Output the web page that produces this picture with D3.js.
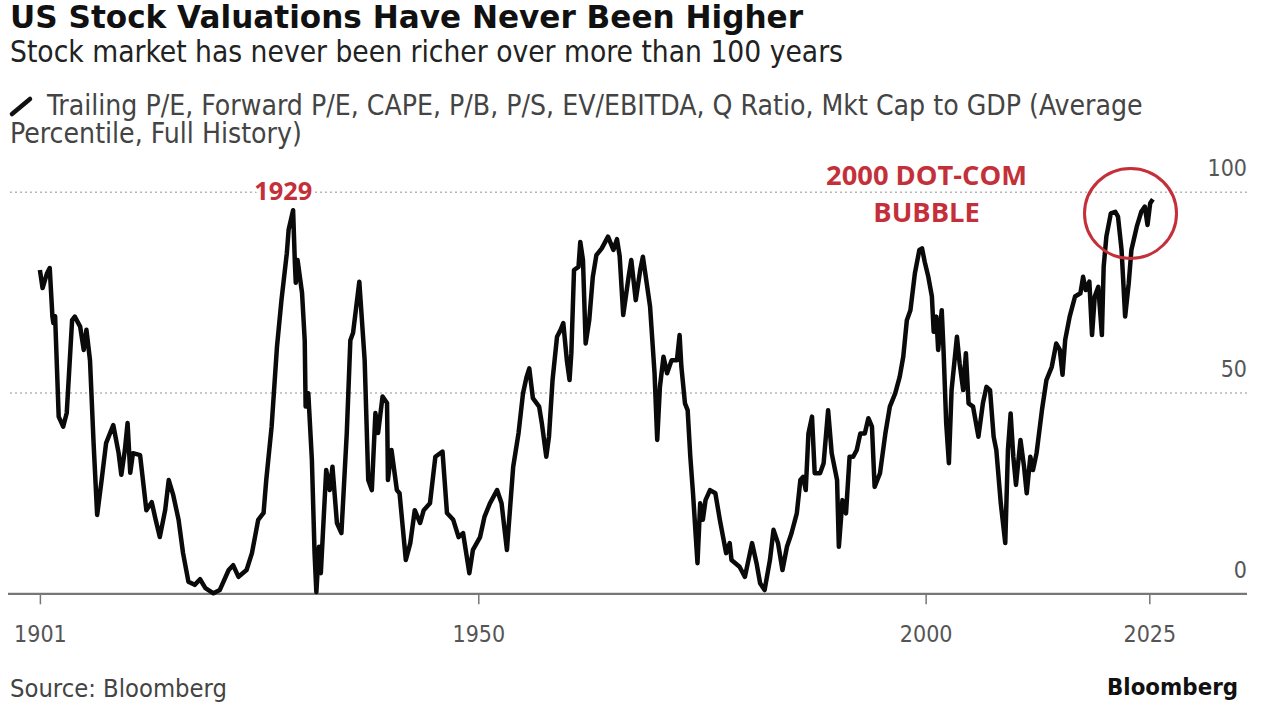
<!DOCTYPE html>
<html lang="en">
<head>
    <meta charset="UTF-8">
    <title>US Stock Valuations Have Never Been Higher</title>
    <script src="https://d3js.org/d3.v7.min.js"></script>
    <style>
        body { margin: 0; background: #fff; }
        svg { display: block; }
    </style>
</head>
<body>
    <div id="chart"></div>
    <script>
        // Average valuation percentile: [year, percentile]
        const series = [
            [1901.0,80.5],[1901.3,76],[1901.8,79.7],[1902.1,81],[1902.4,68.9],[1902.5,67.3],[1902.7,69],[1903.1,44],[1903.6,41.5],[1904.0,44.9],
            [1904.6,68],[1904.9,68.9],[1905.5,66.4],[1905.9,60.6],[1906.2,65.6],[1906.6,58],[1907.0,37.4],[1907.4,19.5],[1907.9,28.2],[1908.4,37.4],
            [1909.2,41.9],[1909.8,34.9],[1910.1,29.5],[1910.5,35.7],[1910.8,42.4],[1911.1,30],[1911.4,34.9],[1912.2,34.4],[1912.9,20.7],[1913.5,22.7],
            [1913.9,18.7],[1914.4,14],[1915.0,20.7],[1915.4,28.2],[1915.9,24.5],[1916.5,18.3],[1917.0,10],[1917.6,2.9],[1918.3,2.1],[1918.9,3.5],
            [1919.5,1.3],[1920.4,0],[1921.1,0.8],[1922.1,5.8],[1922.6,7],[1923.2,4.1],[1924.1,5.8],[1924.7,10],[1925.4,18.3],[1926.0,20],
            [1926.3,28.2],[1926.9,41.5],[1927.5,61.4],[1928.0,73],[1928.6,84.7],[1928.8,90.5],[1929.3,95.4],[1929.5,82.2],[1929.6,77.3],[1929.8,83],
            [1930.3,74.8],[1930.6,63],[1930.7,46.5],[1931.0,49.8],[1931.4,33.2],[1931.7,10],[1931.9,0.3],[1932.2,11.6],[1932.4,5],[1933.0,30.7],
            [1933.4,25.7],[1933.7,31.5],[1934.2,17.5],[1934.7,15],[1935.3,39.9],[1935.7,63],[1936.0,64.8],[1936.7,77.6],[1937.3,58],[1937.7,28.2],
            [1938.1,25.7],[1938.5,44.9],[1938.8,39.9],[1939.3,49],[1939.8,47.4],[1939.9,28.2],[1940.3,35.7],[1940.9,25.7],[1941.2,24.9],[1941.9,8.3],
            [1942.4,12.5],[1942.9,20.7],[1943.5,17.5],[1943.9,20.7],[1944.6,22.4],[1945.2,34],[1946.0,35.3],[1946.5,20],[1947.2,18.3],[1947.8,14],
            [1948.3,15],[1949.0,5],[1949.4,10.8],[1950.2,14],[1950.7,19.1],[1951.3,22.4],[1952.1,25.7],[1952.6,22.4],[1953.2,10.8],[1953.9,31.5],
            [1954.5,39.9],[1955.0,49.8],[1955.4,53.9],[1955.7,56],[1956.1,48.6],[1956.8,46.5],[1957.1,42.4],[1957.6,34],[1957.9,39],[1958.3,53.1],
            [1958.8,63.9],[1959.2,65.6],[1959.5,67.3],[1959.9,58],[1960.2,53.1],[1960.4,59.8],[1960.7,80.5],[1961.2,81.3],[1961.4,87.5],[1961.7,83],
            [1962.0,62.2],[1962.4,68],[1962.8,78.8],[1963.2,84.2],[1963.8,85.9],[1964.5,88.8],[1965.1,85.5],[1965.5,88.2],[1965.8,84],[1966.2,69.3],
            [1966.8,78.8],[1967.1,83],[1967.6,73],[1968.1,80.5],[1968.4,83.8],[1969.2,71.4],[1969.7,54.8],[1970.0,38.2],[1970.3,51.4],[1970.7,58.9],
            [1971.1,54.8],[1971.6,58],[1972.2,58],[1972.5,64.3],[1972.7,56.4],[1973.1,47.3],[1973.4,45.6],[1973.7,34],[1974.0,24.9],[1974.5,7.5],
            [1974.8,22.4],[1975.1,18.3],[1975.4,23.2],[1975.9,25.7],[1976.5,24.9],[1977.0,18.3],[1977.7,10],[1978.1,12.5],[1978.3,8.3],[1979.2,6.6],
            [1979.8,4.1],[1980.6,12.5],[1981.1,7.5],[1981.5,2.5],[1982.0,0.8],[1982.6,8.3],[1983.0,15.8],[1983.5,12.5],[1984.0,5.8],[1984.5,11.6],
            [1985.0,14.9],[1985.6,19.9],[1986.0,28.2],[1986.3,29],[1986.6,25.7],[1986.9,39.8],[1987.3,44],[1987.6,29.9],[1988.2,29.9],[1988.6,32.4],
            [1989.1,45.6],[1989.5,34.9],[1990.1,28.2],[1990.3,11.6],[1990.7,23.2],[1991.1,19.9],[1991.5,34],[1991.9,34],[1992.3,35.7],[1992.7,39.8],
            [1993.2,39.8],[1993.6,43.6],[1994.0,41.5],[1994.3,26.5],[1994.9,29.9],[1995.5,39.8],[1996.0,46.5],[1996.6,49.8],[1997.1,53.9],[1997.5,58.9],
            [1997.9,68],[1998.3,70.5],[1998.8,79.7],[1999.3,85.5],[1999.6,85.9],[1999.9,82.5],[2000.3,78.8],[2000.7,73.9],[2000.9,65.1],[2001.2,68.9],
            [2001.4,60.6],[2001.8,70.5],[2002.0,60.6],[2002.3,42.3],[2002.6,32.4],[2002.9,50.6],[2003.5,63.9],[2003.8,57.3],[2004.2,50.6],[2004.5,59.8],
            [2004.8,47.3],[2005.3,46.5],[2005.9,39],[2006.4,47.3],[2006.8,51.4],[2007.2,50.6],[2007.6,39],[2007.9,35.7],[2008.4,22.4],[2008.9,12.5],
            [2009.2,35.7],[2009.5,44.8],[2009.8,34],[2010.1,27],[2010.6,38.2],[2011.0,31.5],[2011.3,24.9],[2011.7,34],[2012.0,30.7],[2012.4,34.9],
            [2013.0,45.6],[2013.5,53.1],[2014.1,56.4],[2014.6,62.2],[2015.0,60.6],[2015.3,54.4],[2015.6,63.1],[2016.1,68.9],[2016.7,73.9],[2017.3,74.7],
            [2017.6,78.8],[2017.9,75.5],[2018.3,77.6],[2018.6,64.3],[2018.9,73.9],[2019.3,76.3],[2019.7,64.3],[2019.9,81.3],[2020.2,88.8],[2020.7,94.6],
            [2021.2,95],[2021.5,93.8],[2021.9,85.5],[2022.3,68.9],[2022.7,77.2],[2023.0,85.5],[2023.6,91.3],[2024.1,95],[2024.5,96.3],[2024.8,91.7],
            [2025.1,97.1],[2025.4,98.1]
        ];

        const xTicks = [1901, 1950, 2000, 2025];
        const yTicks = [0, 50, 100];

        const title = "US Stock Valuations Have Never Been Higher";
        const subtitle = "Stock market has never been richer over more than 100 years";
        const legendLines = [
            "Trailing P/E, Forward P/E, CAPE, P/B, P/S, EV/EBITDA, Q Ratio, Mkt Cap to GDP (Average",
            "Percentile, Full History)"
        ];
        const notes = [
            {year: 1928.2, value: 100, lines: ["1929"], width: 58},
            {year: 2000.1, value: 100, lines: ["2000 DOT-COM", "BUBBLE"], width: 201}
        ];
        const highlight = {year: 2022.9, value: 94.6};

        const W = 1269, H = 723;
        const body = "'DejaVu Sans Condensed', 'DejaVu Sans', sans-serif";

        const svg = d3.select("#chart").append("svg")
            .attr("width", W)
            .attr("height", H);

        // scales - fitted to where the original puts its ticks
        const x = d3.scaleLinear().domain([1901, 2025]).range([39.9, 1149.3]);
        const y = d3.scaleLinear().domain([0, 100]).range([593.3, 191.7]);

        // stretch/shrink font so text covers the same width as the original
        function fit(sel, w) {
            const fs = parseFloat(sel.style("font-size"));
            const len = sel.node().getComputedTextLength();
            sel.style("font-size", (fs * w / len).toFixed(2) + "px");
            return fs * w / len;
        }

        // Headings
        const t = svg.append("text")
            .attr("x", 10).attr("y", 28)
            .style("font-family", "'DejaVu Sans', sans-serif")
            .style("font-weight", "bold")
            .style("font-size", "27px")
            .style("fill", "#111")
            .text(title);
        fit(t, 793);

        const st = svg.append("text")
            .attr("x", 10).attr("y", 62)
            .style("font-family", body)
            .style("font-size", "24px")
            .style("fill", "#222")
            .text(subtitle);
        fit(st, 833);

        // legend: little slash + two lines of text
        svg.append("line")
            .attr("x1", 12).attr("y1", 114)
            .attr("x2", 30).attr("y2", 99)
            .attr("stroke", "#111")
            .attr("stroke-width", 4.5)
            .attr("stroke-linecap", "round");

        const l1 = svg.append("text")
            .attr("x", 47).attr("y", 115)
            .style("font-family", body)
            .style("font-size", "23px")
            .style("fill", "#444")
            .text(legendLines[0]);
        const legendSize = fit(l1, 1096);

        svg.append("text")
            .attr("x", 10).attr("y", 143)
            .style("font-family", body)
            .style("font-size", legendSize + "px")
            .style("fill", "#444")
            .text(legendLines[1]);

        // y axis: dotted gridlines with labels sitting above them on the right
        const yAxis = svg.append("g")
            .attr("transform", "translate(1247,0)")
            .call(d3.axisLeft(y).tickValues(yTicks).tickSize(1239).tickPadding(0));
        yAxis.select(".domain").remove();
        yAxis.selectAll(".tick line")
            .attr("stroke", "#b5b5b5")
            .attr("stroke-width", 1.6)
            .attr("stroke-dasharray", "2,3");
        yAxis.selectAll(".tick")
            .filter(d => d === 0)
            .select("line")
            .attr("stroke", "#777")
            .attr("stroke-width", 2.2)
            .attr("stroke-dasharray", null);
        yAxis.selectAll(".tick text")
            .attr("x", 0)
            .attr("dy", "-16")
            .attr("text-anchor", "end")
            .style("font-family", body)
            .style("font-size", "23px")
            .style("fill", "#555");

        // x axis
        const xAxis = svg.append("g")
            .attr("transform", `translate(0,${y(0)})`)
            .call(d3.axisBottom(x).tickValues(xTicks).tickSize(11).tickFormat(d3.format("d")));
        xAxis.select(".domain").remove();
        xAxis.selectAll(".tick line")
            .attr("stroke", "#777")
            .attr("stroke-width", 1.5);
        xAxis.selectAll(".tick text")
            .attr("y", 48.7)
            .attr("dy", 0)
            .style("font-family", body)
            .style("font-size", "23px")
            .style("fill", "#555");

        // the valuation line
        const line = d3.line()
            .x(d => x(d[0]))
            .y(d => y(d[1]));

        svg.append("path")
            .datum(series)
            .attr("fill", "none")
            .attr("stroke", "#0a0a0a")
            .attr("stroke-width", 4.5)
            .attr("stroke-linejoin", "round")
            .attr("d", line);

        // red annotations
        const red = "#c4303a";
        notes.forEach(n => {
            let size = null;
            n.lines.forEach((s, i) => {
                const txt = svg.append("text")
                    .attr("x", x(n.year))
                    .attr("y", n.lines.length > 1 ? y(n.value) - 7 + i * 37 : y(n.value) + 8)
                    .attr("text-anchor", "middle")
                    .style("font-family", "'Open Sans', sans-serif")
                    .style("font-weight", "bold")
                    .style("font-size", (size || 22) + "px")
                    .style("fill", red)
                    .style("stroke", "#fff")
                    .style("stroke-width", 6)
                    .style("paint-order", "stroke")
                    .text(s);
                if (i === 0) size = fit(txt, n.width);
            });
        });

        svg.append("ellipse")
            .attr("cx", x(highlight.year))
            .attr("cy", y(highlight.value))
            .attr("rx", 46)
            .attr("ry", 45)
            .attr("fill", "none")
            .attr("stroke", red)
            .attr("stroke-width", 3);

        // footer
        const src = svg.append("text")
            .attr("x", 10).attr("y", 697)
            .style("font-family", body)
            .style("font-size", "22px")
            .style("fill", "#444")
            .text("Source: Bloomberg");
        fit(src, 217);

        const brand = svg.append("text")
            .attr("x", 1238).attr("y", 695)
            .attr("text-anchor", "end")
            .style("font-family", body)
            .style("font-weight", "bold")
            .style("font-size", "22px")
            .style("fill", "#111")
            .text("Bloomberg");
        fit(brand, 131);
    </script>
</body>
</html>
